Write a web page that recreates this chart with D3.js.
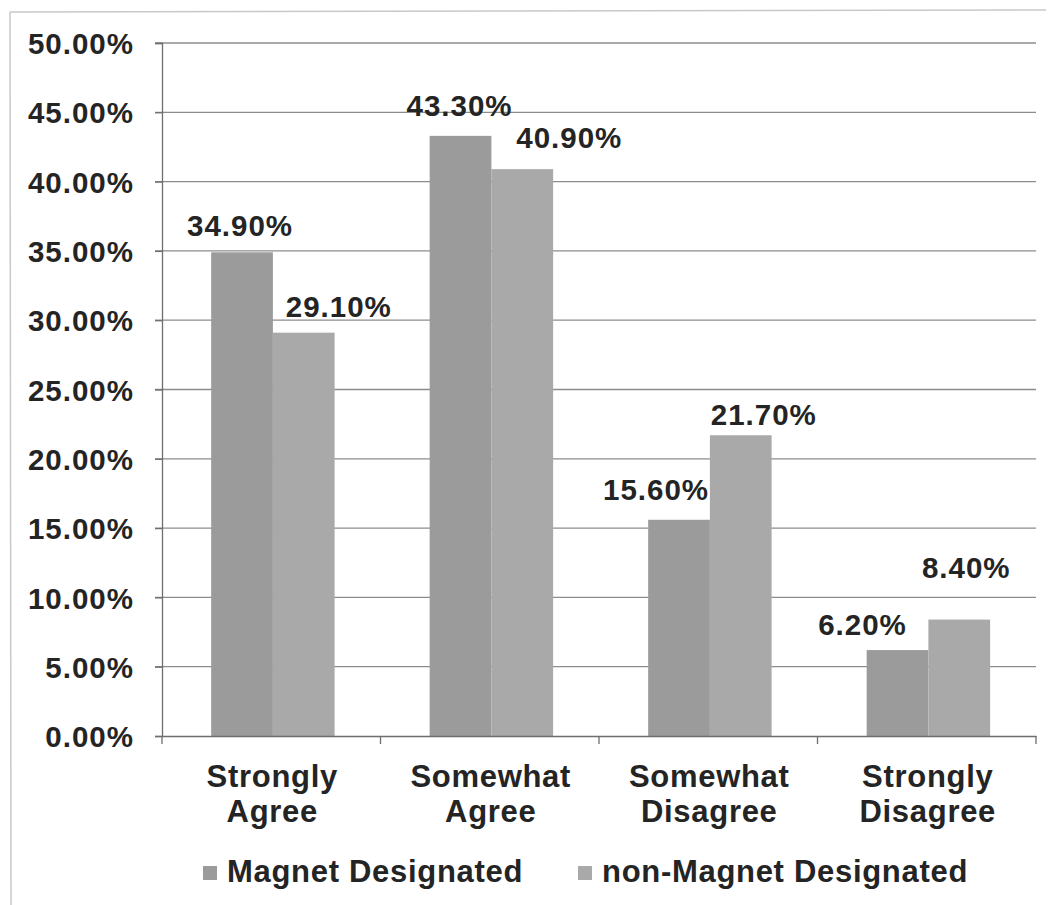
<!DOCTYPE html>
<html>
<head>
<meta charset="utf-8">
<script src="https://cdn.jsdelivr.net/npm/d3@7"></script>
<style>
  html, body { margin: 0; padding: 0; background: #ffffff; }
  svg { display: block; }
  text { font-family: "Liberation Sans", Arial, sans-serif; font-weight: bold; fill: #242424; }
</style>
</head>
<body>
<svg id="chart" width="1050" height="905"></svg>
<script>
// Survey responses by hospital designation (share of respondents)
const categories = [["Strongly", "Agree"], ["Somewhat", "Agree"], ["Somewhat", "Disagree"], ["Strongly", "Disagree"]];
const seriesNames = ["Magnet Designated", "non-Magnet Designated"];
const magnetValues = [0.349, 0.433, 0.156, 0.062];
const nonMagnetValues = [0.291, 0.409, 0.217, 0.084];
const yTicks = [0, 0.05, 0.10, 0.15, 0.20, 0.25, 0.30, 0.35, 0.40, 0.45, 0.50];

// Label placement nudges (pixels) for the value labels: [dx, lift above bar top]
const labelNudge = {
  "Magnet Designated": [[-2, 16], [-1, 20], [-23, 20], [-35, 15]],
  "non-Magnet Designated": [[35, 16], [47, 21], [23, 10], [7, 42]]
};
const colors = { "Magnet Designated": "#9b9b9b", "non-Magnet Designated": "#a9a9a9" };

const numFont = 29.5, numSpacing = 1;
const catFont = 31, catSpacing = 0.7;

const svg = d3.select("#chart");
const plotLeft = 162, plotRight = 1036, plotTop = 43, plotBottom = 736;

// frame lines
svg.append("line").attr("x1", 10).attr("x2", 1046).attr("y1", 12).attr("y2", 10)
  .attr("stroke", "#c8c8c8").attr("stroke-width", 1.5);
svg.append("line").attr("x1", 10).attr("x2", 11).attr("y1", 12).attr("y2", 905)
  .attr("stroke", "#c8c8c8").attr("stroke-width", 1.5);

const catKeys = categories.map(c => c.join(" "));
const x0 = d3.scaleBand().domain(catKeys).range([plotLeft, plotRight]).paddingInner(0).paddingOuter(0);
const bw = x0.bandwidth();
const x1 = d3.scaleBand().domain(seriesNames).range([bw * 0.225, bw * 0.79]).padding(0);
const y = d3.scaleLinear().domain([0, 0.5]).range([plotBottom, plotTop]);

// gridlines
svg.append("g").selectAll("line").data(yTicks.filter(t => t > 0)).join("line")
  .attr("x1", plotLeft - 7).attr("x2", plotRight)
  .attr("y1", d => y(d)).attr("y2", d => y(d))
  .attr("stroke", "#8c8c8c").attr("stroke-width", 1.3);

// y axis
const yAxis = d3.axisLeft(y).tickValues(yTicks).tickSize(7).tickPadding(21)
  .tickFormat(d => (d * 100).toFixed(2) + "%");
const gy = svg.append("g").attr("transform", `translate(${plotLeft},0)`).call(yAxis);
gy.select(".domain").attr("stroke", "#6e6e6e").attr("stroke-width", 1.3);
gy.selectAll(".tick line").attr("stroke", "#6e6e6e").attr("stroke-width", 1.3);
gy.selectAll(".tick text").attr("font-size", numFont).attr("letter-spacing", numSpacing)
  .attr("fill", "#242424")
  .attr("font-family", "'Liberation Sans', Arial, sans-serif").attr("font-weight", "bold")
  .attr("dy", "0.36em");

// bars
const rows = catKeys.map((k, i) => ({ key: k, i, vals: [
  { s: seriesNames[0], v: magnetValues[i] },
  { s: seriesNames[1], v: nonMagnetValues[i] }
]}));

const groups = svg.append("g").selectAll("g").data(rows).join("g")
  .attr("transform", d => `translate(${x0(d.key)},0)`);

groups.selectAll("rect").data(d => d.vals).join("rect")
  .attr("x", d => x1(d.s)).attr("width", x1.bandwidth())
  .attr("y", d => y(d.v)).attr("height", d => y(0) - y(d.v))
  .attr("fill", d => colors[d.s]);

// value labels
groups.each(function(row) {
  d3.select(this).selectAll("text.val").data(row.vals).join("text")
    .attr("class", "val")
    .attr("x", d => x1(d.s) + x1.bandwidth() / 2 + labelNudge[d.s][row.i][0])
    .attr("y", d => y(d.v) - labelNudge[d.s][row.i][1])
    .attr("text-anchor", "middle").attr("font-size", numFont).attr("letter-spacing", numSpacing)
    .text(d => (d.v * 100).toFixed(2) + "%");
});

// x axis
const xAxis = d3.axisBottom(x0).tickSize(0).tickFormat("");
const gx = svg.append("g").attr("transform", `translate(0,${plotBottom})`).call(xAxis);
gx.select(".domain").attr("stroke", "#6e6e6e").attr("stroke-width", 1.3);
// category boundary ticks
svg.append("g").selectAll("line").data(d3.range(catKeys.length + 1)).join("line")
  .attr("x1", i => plotLeft + i * bw).attr("x2", i => plotLeft + i * bw)
  .attr("y1", plotBottom).attr("y2", plotBottom + 8)
  .attr("stroke", "#6e6e6e").attr("stroke-width", 1.3);

// category labels
const catG = svg.append("g").selectAll("text").data(categories).join("text")
  .attr("text-anchor", "middle").attr("font-size", catFont).attr("letter-spacing", catSpacing)
  .attr("transform", (d, i) => `translate(${x0(catKeys[i]) + bw / 2 + 1},0)`);
catG.selectAll("tspan").data(d => d).join("tspan")
  .attr("x", 0).attr("y", (d, j) => 787 + j * 35).text(d => d);

// legend
const legendX = [203, 578];
const lg = svg.append("g").selectAll("g").data(seriesNames).join("g")
  .attr("transform", (d, i) => `translate(${legendX[i]},0)`);
lg.append("rect").attr("x", 0).attr("y", 866).attr("width", 14).attr("height", 14)
  .attr("fill", d => colors[d]);
lg.append("text").attr("x", 24).attr("y", 882).attr("font-size", catFont)
  .attr("letter-spacing", catSpacing).text(d => d);
</script>
</body>
</html>
